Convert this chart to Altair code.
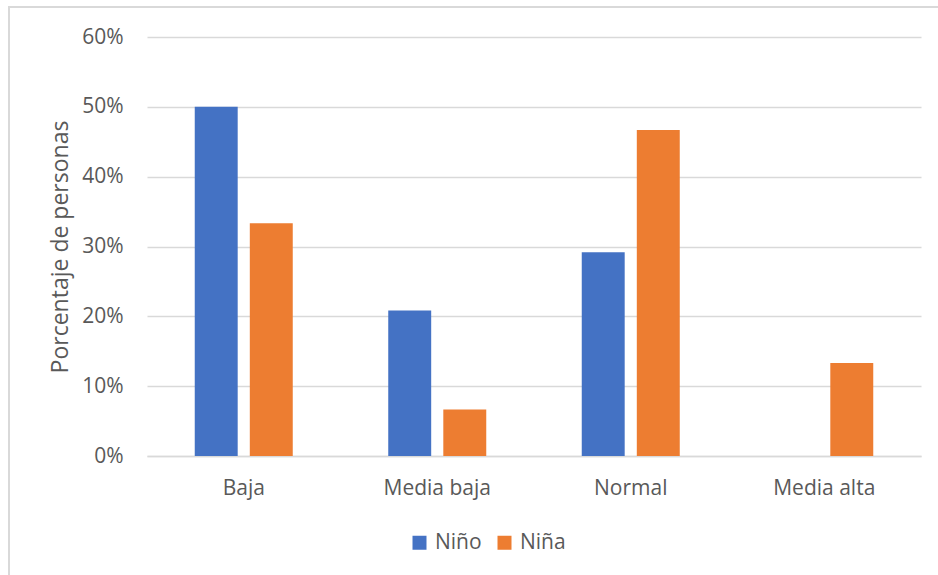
import altair as alt
import pandas as pd

# Nivel de categoría y porcentaje de personas por sexo
categorias = ["Baja", "Media baja", "Normal", "Media alta"]
nino = [12 / 24, 5 / 24, 7 / 24, 0.0]
nina = [5 / 15, 1 / 15, 7 / 15, 2 / 15]
series = ["Niño", "Niña"]
colores = ["#4472C4", "#ED7D31"]
ticks_y = [0, 0.1, 0.2, 0.3, 0.4, 0.5, 0.6]

rows = []
for i, c in enumerate(categorias):
    rows.append({"categoria": c, "sexo": "Niño", "valor": nino[i]})
    rows.append({"categoria": c, "sexo": "Niña", "valor": nina[i]})
df = pd.DataFrame(rows)

FONT = "Open Sans"
GRAY = "#595959"
W, H = 774, 419

bars = alt.Chart(df).mark_bar().encode(
    x=alt.X(
        "categoria:N",
        sort=categorias,
        title=None,
        scale=alt.Scale(paddingInner=0.4935, paddingOuter=0.24675),
        axis=alt.Axis(
            labelAngle=0,
            labelFontSize=21,
            labelColor=GRAY,
            labelFont=FONT,
            labelPadding=21,
            ticks=False,
            domainColor="#d9d9d9",
            domainWidth=1.5,
        ),
    ),
    xOffset=alt.XOffset(
        "sexo:N",
        sort=series,
        scale=alt.Scale(paddingInner=0.22, paddingOuter=0),
    ),
    y=alt.Y(
        "valor:Q",
        title="Porcentaje de personas",
        scale=alt.Scale(domain=[0, 0.6], nice=False),
        axis=alt.Axis(
            format=".0%",
            values=ticks_y,
            labelFontSize=21,
            labelColor=GRAY,
            labelFont=FONT,
            labelPadding=24,
            ticks=False,
            domain=False,
            gridColor="#d9d9d9",
            gridWidth=1.3,
            titleFontSize=23,
            titleFont=FONT,
            titleColor=GRAY,
            titleFontWeight="normal",
            titlePadding=9,
        ),
    ),
    color=alt.Color(
        "sexo:N",
        sort=series,
        scale=alt.Scale(domain=series, range=colores),
        legend=alt.Legend(
            title=None,
            orient="none",
            direction="horizontal",
            legendX=262,
            legendY=495,
            symbolType="square",
            symbolSize=196,
            symbolStrokeWidth=0,
            labelFontSize=21,
            labelColor=GRAY,
            labelFont=FONT,
            columnPadding=12,
            labelOffset=5,
        ),
    ),
)

# Marco exterior del área del gráfico
frame = alt.Chart(alt.Data(values=[{}])).mark_rect(
    fill=None, stroke="#d9d9d9", strokeWidth=2
).encode(
    x=alt.value(-138),
    x2=alt.value(W + 40),
    y=alt.value(-30),
    y2=alt.value(H + 160),
)

chart = alt.layer(frame, bars).properties(
    width=W,
    height=H,
    autosize=alt.AutoSizeParams(type="none"),
    padding={"left": 147, "top": 37, "right": 17, "bottom": 119},
).configure(background="white").configure_view(stroke=None)

chart.save("out.html", embed_options={"renderer": "svg", "actions": False})
